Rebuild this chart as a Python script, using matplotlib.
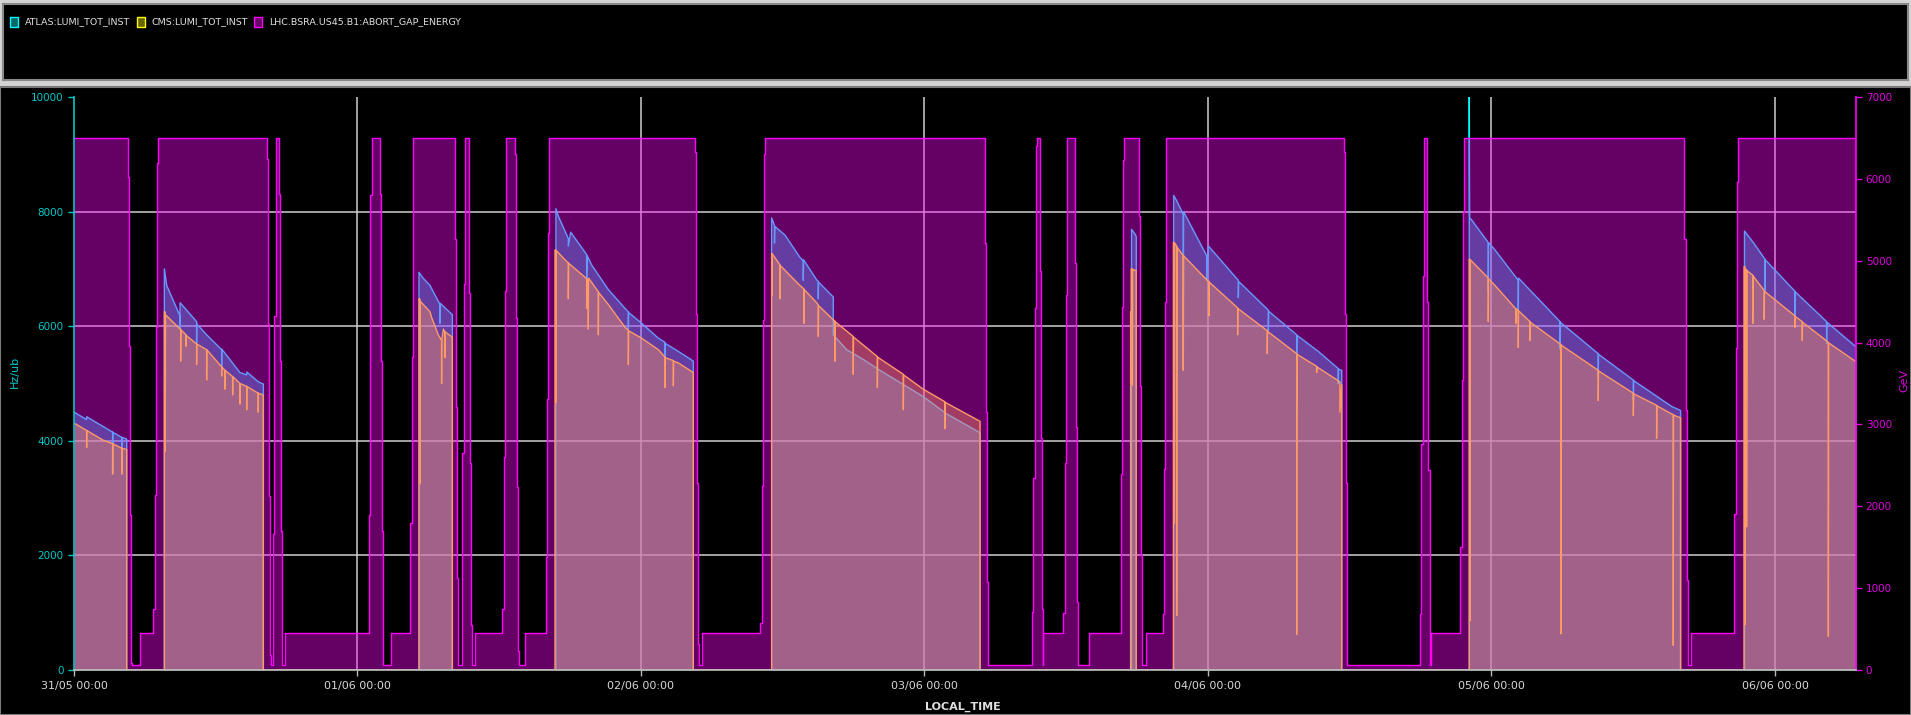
import matplotlib
matplotlib.use("Agg")
import matplotlib.pyplot as plt
import numpy as np
from matplotlib.patches import Rectangle

# time axis: hours since 31/05 00:00
day_ticks = [0, 24, 48, 72, 96, 120, 144]
day_labels = ["31/05 00:00", "01/06 00:00", "02/06 00:00", "03/06 00:00",
              "04/06 00:00", "05/06 00:00", "06/06 00:00"]
t_end = 150.86
lumi_ticks = [0, 2000, 4000, 6000, 8000, 10000]
energy_ticks = [0, 1000, 2000, 3000, 4000, 5000, 6000, 7000]
series_names = ["ATLAS:LUMI_TOT_INST", "CMS:LUMI_TOT_INST", "LHC.BSRA.US45.B1:ABORT_GAP_ENERGY"]

# LHC.BSRA.US45.B1:ABORT_GAP_ENERGY (GeV), step values (hour, GeV)
abort_gap_energy = [
    (0.00, 6500),
    (4.60, 6020), (4.68, 3960), (4.76, 1890), (4.84, 90), (4.91, 60),
    (5.59, 450),
    (6.72, 740), (6.86, 2140), (6.94, 4190), (7.05, 6190), (7.14, 6500),
    (16.31, 6240), (16.39, 4230), (16.51, 2120), (16.59, 180), (16.68, 60),
    (16.87, 1660), (16.96, 4330), (17.07, 6500),
    (17.35, 5820), (17.44, 3770), (17.55, 1700), (17.64, 60),
    (17.86, 450),
    (25.00, 1890), (25.09, 5800), (25.20, 6500),
    (25.91, 5820), (25.96, 3770), (26.07, 1700), (26.13, 60),
    (26.81, 450),
    (28.44, 1800), (28.58, 3820), (28.67, 5845), (28.73, 6500),
    (32.25, 5270), (32.34, 3210), (32.42, 1120), (32.51, 60),
    (32.87, 2650), (32.99, 4720), (33.10, 6500),
    (33.41, 4600), (33.50, 2530), (33.61, 550), (33.69, 60),
    (33.95, 450),
    (36.26, 740), (36.37, 2600), (36.49, 4630), (36.60, 6500),
    (37.33, 6300), (37.42, 4300), (37.53, 2230), (37.61, 230), (37.70, 60),
    (38.18, 450),
    (39.93, 1380), (40.04, 3310), (40.16, 5340), (40.24, 6500),
    (52.57, 6330), (52.66, 4350), (52.77, 2280), (52.85, 320), (52.94, 60),
    (53.19, 450),
    (58.07, 580), (58.21, 2250), (58.35, 4280), (58.44, 6300), (58.50, 6500),
    (77.09, 5220), (77.18, 3150), (77.26, 1080), (77.35, 60),
    (81.07, 710), (81.21, 2350), (81.33, 4420), (81.44, 6400), (81.50, 6500),
    (81.78, 4880), (81.86, 2830), (81.95, 740), (82.00, 60),
    (82.06, 450),
    (83.75, 700), (83.89, 2530), (83.98, 4580), (84.06, 6500),
    (84.77, 4970), (84.85, 2970), (84.94, 830), (85.02, 60),
    (85.95, 450),
    (88.61, 2390), (88.72, 4440), (88.83, 6235), (88.92, 6500),
    (90.16, 5550), (90.27, 3475), (90.36, 1400), (90.44, 60),
    (90.72, 450),
    (92.22, 690), (92.30, 2460), (92.39, 4490), (92.47, 6500),
    (107.51, 6330), (107.60, 4350), (107.68, 2280), (107.77, 60),
    (113.95, 690), (114.06, 2760), (114.17, 4810), (114.26, 6500),
    (114.54, 4490), (114.65, 2440), (114.77, 60),
    (114.88, 450),
    (117.33, 1500), (117.47, 3545), (117.59, 5590), (117.67, 6500),
    (136.32, 5270), (136.44, 3180), (136.52, 1100), (136.61, 60),
    (136.89, 450),
    (140.56, 1910), (140.67, 3935), (140.78, 5960), (140.90, 6500),
    (150.86, 6500),
]

# ATLAS:LUMI_TOT_INST (Hz/ub), (hour, value)
atlas_lumi = [
    (0.00, 4500), (1.07, 4370), (1.07, 4420), (3.27, 4150), (3.27, 3420), (3.28, 4150),
    (4.04, 4060), (4.04, 3420), (4.05, 4060), (4.46, 4030), (4.46, 0),
    (7.65, 0), (7.65, 7000), (7.85, 6710), (8.97, 6180), (8.97, 5950), (8.98, 6410),
    (10.38, 6080), (10.38, 5700), (10.39, 6040), (11.23, 5850), (12.50, 5590), (12.50, 5300),
    (12.51, 5600), (14.05, 5190), (14.62, 5150), (14.63, 5200), (15.60, 5030), (16.03, 4990), (16.03, 0),
    (29.21, 0), (29.21, 6940), (29.55, 6840), (30.14, 6710), (30.98, 6380), (30.98, 6050),
    (31.00, 6400), (31.97, 6210), (32.03, 6200), (32.03, 0),
    (40.80, 0), (40.80, 8050), (41.00, 7920), (41.85, 7530), (41.85, 7400), (42.05, 7640),
    (43.40, 7250), (43.40, 6800), (43.45, 7230), (43.82, 7070), (45.23, 6640), (46.65, 6310),
    (46.93, 6250), (46.93, 5950), (46.95, 6240), (48.06, 6050), (49.47, 5790), (50.03, 5720),
    (50.03, 5390), (50.05, 5700), (51.16, 5560), (52.43, 5390), (52.43, 0),
    (59.06, 0), (59.06, 7890), (59.30, 7760), (59.30, 7450), (59.34, 7740), (60.19, 7590),
    (61.46, 7200), (61.74, 7140), (61.74, 6800), (61.76, 7160), (62.87, 6810), (63.01, 6780),
    (63.01, 6480), (63.03, 6770), (64.28, 6510), (64.28, 5850), (65.41, 5590), (66.82, 5420),
    (68.23, 5230), (71.90, 4770), (73.88, 4470), (76.70, 4140), (76.70, 0),
    (89.53, 0), (89.53, 7690), (89.85, 7600), (89.93, 7560), (89.93, 0),
    (93.10, 0), (93.10, 8280), (93.35, 8190), (93.91, 7950), (93.91, 5230), (93.93, 8000),
    (95.89, 7230), (95.89, 6800), (96.03, 7400), (98.57, 6800), (98.57, 6500), (98.60, 6780),
    (101.11, 6280), (101.11, 5920), (101.14, 6260), (102.52, 6020), (103.51, 5850), (103.51, 5500),
    (103.54, 5840), (105.34, 5560), (107.03, 5260), (107.03, 5000), (107.05, 5250), (107.32, 5230),
    (107.32, 0),
    (118.12, 0), (118.12, 10000), (118.15, 7890), (118.30, 7860), (119.73, 7460), (119.73, 6630),
    (119.75, 7460), (120.30, 7330), (122.27, 6800), (122.27, 6270), (122.29, 6840), (125.80, 6080),
    (125.80, 5600), (125.82, 6070), (129.04, 5520), (129.04, 5100), (129.06, 5510), (132.01, 5060),
    (132.01, 4700), (132.04, 5050), (135.25, 4600), (136.01, 4530), (136.01, 0),
    (141.42, 0), (141.42, 7660), (142.17, 7460), (143.15, 7170), (143.15, 6610), (143.17, 7160),
    (145.69, 6610), (145.69, 6050), (145.71, 6600), (148.37, 6080), (148.37, 5700), (148.40, 6070),
    (150.86, 5640),
]

# CMS:LUMI_TOT_INST (Hz/ub), (hour, value)
cms_lumi = [
    (0.00, 4310), (1.07, 4180), (1.07, 3880), (1.08, 4180), (2.48, 4010), (3.27, 3950), (3.27, 3420),
    (3.28, 3950), (4.04, 3870), (4.04, 3420), (4.05, 3870), (4.46, 3850), (4.46, 0),
    (7.65, 0), (7.65, 6250), (7.72, 6250), (7.72, 3810), (7.75, 6200), (8.97, 5950),
    (9.03, 5940), (9.03, 5390), (9.04, 5940), (9.48, 5850), (9.48, 5650), (9.49, 5840),
    (10.38, 5690), (10.38, 5330), (10.39, 5690), (11.23, 5590), (11.23, 5060), (11.24, 5590),
    (12.50, 5290), (12.50, 5130), (12.51, 5290), (12.78, 5230), (12.78, 4900), (12.79, 5230),
    (13.43, 5120), (13.43, 4800), (13.44, 5120), (14.05, 5000), (14.05, 4640), (14.06, 5000),
    (14.62, 4950), (14.62, 4540), (14.63, 4950), (15.60, 4830), (15.60, 4500), (15.61, 4830),
    (16.03, 4800), (16.03, 0),
    (29.21, 0), (29.21, 6480), (29.28, 6480), (29.28, 3250), (29.30, 6440), (30.14, 6250),
    (30.28, 6150), (30.84, 5850), (31.12, 5750), (31.12, 5000), (31.13, 5750), (31.27, 5950),
    (31.41, 5900), (31.41, 5450), (31.42, 5900), (32.03, 5810), (32.03, 0),
    (40.72, 0), (40.72, 7330), (40.80, 7330), (40.80, 4670), (40.82, 7320), (41.85, 7100),
    (41.85, 6480), (41.87, 7100), (43.40, 6830), (43.40, 6310), (43.42, 6820), (43.54, 6800),
    (43.54, 5950), (43.56, 6840), (44.39, 6600), (44.39, 5850), (44.41, 6590), (45.23, 6380),
    (46.65, 5980), (46.93, 5930), (46.93, 5330), (46.95, 5920), (48.06, 5790), (49.47, 5590),
    (50.03, 5460), (50.03, 4930), (50.05, 5450), (50.74, 5400), (50.74, 4960), (50.76, 5390),
    (51.16, 5360), (52.43, 5190), (52.43, 0),
    (59.06, 0), (59.06, 7270), (59.10, 7270), (59.10, 6540), (59.12, 7260), (59.77, 7070),
    (59.77, 6480), (59.79, 7060), (61.46, 6710), (61.80, 6650), (61.80, 6050), (61.82, 6640),
    (62.87, 6410), (63.01, 6370), (63.01, 5820), (63.03, 6360), (64.28, 6110), (64.42, 6090),
    (64.42, 5390), (64.44, 6080), (65.97, 5820), (65.97, 5160), (65.99, 5810), (68.01, 5470),
    (68.01, 4930), (68.03, 5460), (70.21, 5160), (70.21, 4540), (70.23, 5150), (71.90, 4900),
    (73.74, 4680), (73.74, 4210), (73.76, 4670), (76.70, 4340), (76.70, 0),
    (89.45, 0), (89.45, 6250), (89.50, 6250), (89.50, 7000), (89.60, 7000), (89.60, 4970),
    (89.62, 6990), (89.93, 6970), (89.93, 0),
    (93.07, 0), (93.07, 7460), (93.15, 7460), (93.15, 2560), (93.18, 7450), (93.35, 7400),
    (93.35, 950), (93.37, 7380), (93.91, 7230), (93.91, 5230), (93.93, 7230), (95.89, 6810),
    (96.08, 6780), (96.08, 6180), (96.10, 6770), (98.51, 6320), (98.51, 5850), (98.53, 6310),
    (101.02, 5920), (101.02, 5520), (101.04, 5910), (103.51, 5520), (103.51, 620), (103.53, 5510),
    (105.20, 5300), (105.20, 5190), (105.22, 5290), (107.17, 5030), (107.17, 4500), (107.32, 4980),
    (107.32, 0),
    (118.12, 0), (118.12, 7170), (118.18, 7170), (118.18, 860), (118.20, 7160), (119.73, 6840),
    (119.73, 6080), (119.75, 6830), (120.30, 6710), (122.07, 6300), (122.07, 6050), (122.09, 6300),
    (122.27, 6280), (122.27, 5630), (122.29, 6270), (123.26, 6080), (123.26, 5750), (123.28, 6070),
    (125.88, 5680), (125.88, 630), (125.90, 5670), (129.04, 5230), (129.04, 4700), (129.06, 5220),
    (132.01, 4830), (132.01, 4440), (132.04, 4820), (133.98, 4620), (133.98, 4040), (134.00, 4610),
    (135.25, 4470), (135.39, 4460), (135.39, 430), (135.41, 4450), (136.01, 4400), (136.01, 0),
    (141.38, 0), (141.38, 7040), (141.46, 7040), (141.46, 790), (141.50, 7000), (141.60, 6980),
    (141.60, 2500), (141.62, 6970), (142.12, 6890), (142.12, 6050), (142.14, 6880), (143.09, 6620),
    (143.09, 6120), (143.11, 6610), (145.69, 6180), (145.69, 5980), (145.71, 6170), (146.31, 6080),
    (146.31, 5750), (146.33, 6070), (148.52, 5720), (148.52, 590), (148.54, 5710), (150.86, 5380),
]

CYAN = "#00ffff"
YELLOW = "#ffff00"
MAGENTA = "#ff00ff"
GRID = "#cfcfcf"
W, H = 1911, 715


def px(x0, y0, x1, y1):
    # pixel box (top-left origin) -> figure fraction rect
    return [x0 / W, 1 - y1 / H, (x1 - x0) / W, (y1 - y0) / H]


plt.rcParams["font.family"] = ["DejaVu Sans"]
fig = plt.figure(figsize=(W / 100, H / 100), dpi=100, facecolor="#d4d4d4")

# legend panel
lg = fig.add_axes(px(3, 4, 1908, 80))
lg.set_facecolor("black")
lg.set_xlim(0, 1905); lg.set_ylim(76, 0)
lg.set_xticks([]); lg.set_yticks([])
for s in lg.spines.values():
    s.set_color("#8a8a8a"); s.set_linewidth(1.5)
legend_items = [(CYAN, "#006666", 7, 22), (YELLOW, "#666600", 134, 149), (MAGENTA, "#660066", 251, 266)]
for (edge, face, xs, xt), name in zip(legend_items, series_names):
    lg.add_patch(Rectangle((xs, 12.5), 8, 10, facecolor=face, edgecolor=edge, lw=1))
    lg.text(xt, 18, name, color="#e0e0e0", fontsize=6.8, va="center", ha="left")

# plot panel background
panel = fig.add_axes(px(0, 87, W, H))
panel.set_facecolor("black")
panel.set_xticks([]); panel.set_yticks([])
for s in panel.spines.values():
    s.set_color("#7a7a7a"); s.set_linewidth(1.5)

ax = fig.add_axes(px(74, 97, 1856, 670))
ax.set_facecolor("black")
ax.set_xlim(0, t_end)
ax.set_ylim(0, 10000)

for d in day_ticks[1:]:
    ax.axvline(d, color=GRID, lw=1.1, zorder=0.5)
for v in lumi_ticks[1:-1]:
    ax.axhline(v, color=GRID, lw=1.1, zorder=0.5)

at_t, at_v = np.array(atlas_lumi).T
cm_t, cm_v = np.array(cms_lumi).T
ax.fill_between(at_t, 0, at_v, color=CYAN, alpha=0.4, lw=0, zorder=1)
ax.plot(at_t, at_v, color=CYAN, lw=1.0, zorder=1.5)
ax.fill_between(cm_t, 0, cm_v, color=YELLOW, alpha=0.4, lw=0, zorder=2)
ax.plot(cm_t, cm_v, color=YELLOW, lw=1.0, zorder=2.5)

ax.set_xticks(day_ticks)
ax.set_xticklabels(day_labels)
ax.set_yticks(lumi_ticks)
ax.set_yticklabels([str(v) for v in lumi_ticks])
ax.tick_params(axis="x", colors="#b8b8b8", labelcolor="#d8d8d8", labelsize=8, length=4.5, width=1, pad=3.5)
ax.tick_params(axis="y", colors="#00c8c8", labelsize=7.5, length=4.5, width=1, pad=3)
for s in ax.spines.values():
    s.set_visible(False)

ax2 = ax.twinx()
ax2.set_ylim(0, 7000)
en_t, en_v = np.array(abort_gap_energy).T
ax2.fill_between(en_t, 0, en_v, step="post", color=MAGENTA, alpha=0.4, lw=0, zorder=1)
ax2.plot(en_t, en_v, drawstyle="steps-post", color=MAGENTA, lw=1.0, zorder=2)
ax2.set_yticks(energy_ticks)
ax2.set_yticklabels([str(v) for v in energy_ticks])
ax2.tick_params(axis="y", colors="#e000e0", labelsize=7.5, length=4.5, width=1, pad=2.5)
ax2.spines["top"].set_visible(False)
ax2.spines["left"].set_color("#00c8c8")
ax2.spines["right"].set_color(MAGENTA)
ax2.spines["bottom"].set_color("#c0c0c0")
for s in ("left", "right", "bottom"):
    ax2.spines[s].set_linewidth(1.2)

fig.text(15 / W, 1 - 372 / H, "Hz/ub", color="#00c8c8", fontsize=8, rotation=90, ha="center", va="center")
fig.text(1904 / W, 1 - 380 / H, "GeV", color="#e000e0", fontsize=8, rotation=90, ha="center", va="center")
fig.text(963 / W, 1 - 707 / H, "LOCAL_TIME", color="#e0e0e0", fontsize=8, fontweight="bold",
         ha="center", va="center")

fig.savefig("out.png", dpi=100, facecolor=fig.get_facecolor())
